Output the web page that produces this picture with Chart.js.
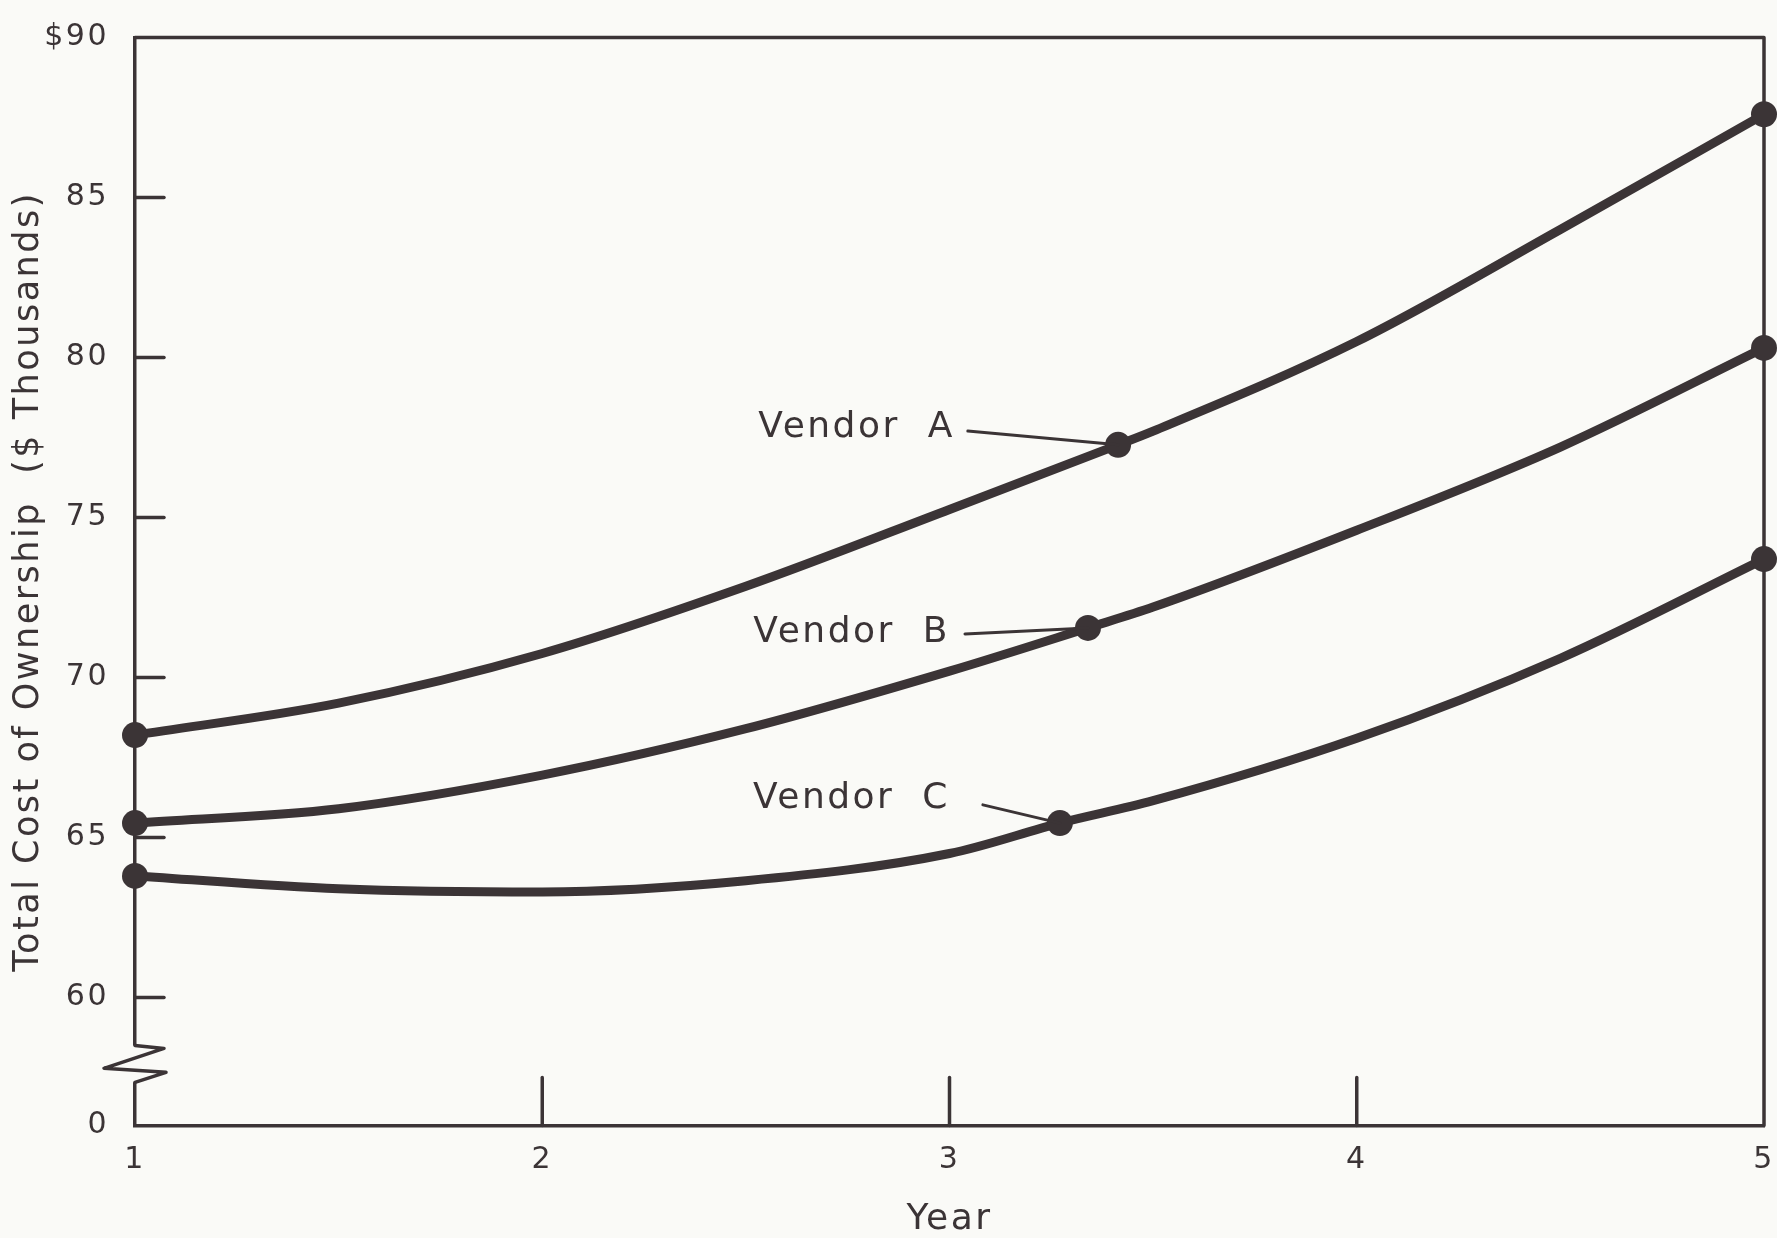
<!DOCTYPE html>
<html>
<head>
<meta charset="utf-8">
<title>Total Cost of Ownership</title>
<script src="https://cdn.jsdelivr.net/npm/chart.js@4.4.1/dist/chart.umd.min.js"></script>
<style>
  html, body { margin: 0; padding: 0; background: #fafaf7; }
  canvas { display: block; }
</style>
</head>
<body>
<canvas id="costChart" width="1777" height="1238"></canvas>
<script>
// Values every half year
const years = [1, 1.5, 2, 2.5, 3, 3.5, 4, 4.5, 5];
const vendorA = [68.2, 69.2, 70.75, 72.85, 75.25, 77.7, 80.5, 84.0, 87.6];
const vendorB = [65.45, 65.9, 66.95, 68.4, 70.2, 72.2, 74.6, 77.2, 80.3];
const vendorC = [63.8, 63.4, 63.3, 63.65, 64.5, 66.15, 68.1, 70.6, 73.7];
const seriesNames = ['Vendor  A', 'Vendor  B', 'Vendor  C'];

// Dots where the label leaders touch each curve
const calloutYears = [3.414, 3.34, 3.271];
const calloutValues = [77.27, 71.55, 65.45];
// Leader start (label end) and label position, in data units
const leaderYears = [3.045, 3.038, 3.082];
const leaderValues = [77.7, 71.36, 66.02];
const labelYears = [3.013, 3.001, 3.001];
const labelValues = [77.8, 71.4, 66.2];

// Axis ticks ("0" stands for the broken bottom of the scale)
const yTickValues = [56, 60, 65, 70, 75, 80, 85, 90];
const yTickLabels = ['0', '60', '65', '70', '75', '80', '85', '$90'];
const innerYTicks = [60, 65, 70, 75, 80, 85];
const innerXTicks = [2, 3, 4];
const breakTop = 58.5;
const breakBottom = 57.35;

const inkColor = '#3b3436';
const paperColor = '#fafaf7';

function buildPoints(values, i) {
    const pts = years.map((yr, j) => ({ x: yr, y: values[j] }));
    pts.push({ x: calloutYears[i], y: calloutValues[i] });
    pts.sort((a, b) => a.x - b.x);
    return pts;
}

function makeDataset(values, i) {
    return {
        label: seriesNames[i],
        data: buildPoints(values, i),
        borderColor: inkColor,
        backgroundColor: inkColor,
        borderWidth: 9,
        borderCapStyle: 'round',
        cubicInterpolationMode: 'monotone',
        pointRadius: ctx => {
            const px = ctx.raw ? ctx.raw.x : 0;
            return (px === 1 || px === 5 || px === calloutYears[i]) ? 13 : 0;
        },
        pointBorderWidth: 0,
        pointHoverRadius: 0,
        clip: false
    };
}

// Frame, inner tick marks, axis break, labels with leader lines
const chartDecor = {
    id: 'chartDecor',
    beforeDraw(chart) {
        chart.ctx.letterSpacing = '2.5px';
    },
    beforeDatasetsDraw(chart) {
        const { ctx, chartArea: area, scales: { x, y } } = chart;
        ctx.save();
        ctx.strokeStyle = inkColor;
        ctx.lineWidth = 3.5;
        ctx.lineCap = 'round';
        ctx.lineJoin = 'round';

        ctx.beginPath();
        ctx.moveTo(area.left, area.top);
        ctx.lineTo(area.right, area.top);
        ctx.lineTo(area.right, area.bottom);
        ctx.stroke();

        innerYTicks.forEach(v => {
            const py = y.getPixelForValue(v);
            ctx.beginPath();
            ctx.moveTo(area.left, py);
            ctx.lineTo(area.left + 29, py);
            ctx.stroke();
        });
        innerXTicks.forEach(v => {
            const px = x.getPixelForValue(v);
            ctx.beginPath();
            ctx.moveTo(px, area.bottom);
            ctx.lineTo(px, area.bottom - 48);
            ctx.stroke();
        });

        // zigzag break on the value axis
        const yTop = y.getPixelForValue(breakTop);
        const yBot = y.getPixelForValue(breakBottom);
        ctx.fillStyle = paperColor;
        ctx.fillRect(area.left - 4, yTop, 8, yBot - yTop);
        const span = yBot - yTop;
        ctx.beginPath();
        ctx.moveTo(area.left, yTop);
        ctx.lineTo(area.left + 29, yTop + span * 0.08);
        ctx.lineTo(area.left - 31, yTop + span * 0.62);
        ctx.lineTo(area.left + 31, yTop + span * 0.73);
        ctx.lineTo(area.left, yBot);
        ctx.stroke();
        ctx.restore();
    },
    afterDatasetsDraw(chart) {
        const { ctx, scales: { x, y } } = chart;
        ctx.save();
        ctx.strokeStyle = inkColor;
        ctx.fillStyle = inkColor;
        ctx.lineWidth = 3;
        ctx.lineCap = 'round';
        ctx.font = '36px "DejaVu Sans"';
        ctx.textAlign = 'right';
        ctx.textBaseline = 'middle';
        seriesNames.forEach((name, i) => {
            ctx.beginPath();
            ctx.moveTo(x.getPixelForValue(leaderYears[i]), y.getPixelForValue(leaderValues[i]));
            ctx.lineTo(x.getPixelForValue(calloutYears[i]), y.getPixelForValue(calloutValues[i]));
            ctx.stroke();
            ctx.fillText(name, x.getPixelForValue(labelYears[i]), y.getPixelForValue(labelValues[i]));
        });
        ctx.restore();
    },
    afterDraw(chart) {
        chart.ctx.letterSpacing = '0px';
    }
};

const ctx = document.getElementById('costChart').getContext('2d');
const costChart = new Chart(ctx, {
    type: 'line',
    data: {
        datasets: [
            makeDataset(vendorA, 0),
            makeDataset(vendorB, 1),
            makeDataset(vendorC, 2)
        ]
    },
    options: {
        responsive: false,
        animation: false,
        layout: { padding: { top: 37.5, right: -8, left: 0, bottom: 0 } },
        plugins: {
            legend: { display: false },
            tooltip: { enabled: false }
        },
        scales: {
            x: {
                type: 'linear',
                min: 1,
                max: 5,
                afterFit: scale => {
                    scale.height = 112.5;
                    scale.paddingLeft = 0;
                    scale.paddingRight = 0;
                },
                ticks: {
                    stepSize: 1,
                    padding: 17,
                    color: inkColor,
                    font: { family: 'DejaVu Sans', size: 30 }
                },
                grid: { display: true, drawOnChartArea: false, drawTicks: false },
                border: { display: true, color: inkColor, width: 3.5 },
                title: {
                    display: true,
                    text: 'Year',
                    color: inkColor,
                    font: { family: 'DejaVu Sans', size: 36, lineHeight: 1 },
                    padding: { top: 0, bottom: 0 }
                }
            },
            y: {
                type: 'linear',
                min: 56,
                max: 90,
                afterFit: scale => {
                    scale.width = 135;
                    scale.paddingTop = 0;
                    scale.paddingBottom = 0;
                },
                afterBuildTicks: scale => {
                    scale.ticks = yTickValues.map(v => ({ value: v }));
                },
                ticks: {
                    padding: 26,
                    color: inkColor,
                    font: { family: 'DejaVu Sans', size: 30 },
                    callback: value => {
                        const idx = yTickValues.indexOf(value);
                        return idx >= 0 ? yTickLabels[idx] : '';
                    }
                },
                grid: { display: true, drawOnChartArea: false, drawTicks: false },
                border: { display: true, color: inkColor, width: 3.5 },
                title: {
                    display: true,
                    text: 'Total Cost of Ownership  ($ Thousands)',
                    color: inkColor,
                    font: { family: 'DejaVu Sans', size: 35, lineHeight: 1 },
                    padding: { top: 11, bottom: 0 }
                }
            }
        }
    },
    plugins: [chartDecor]
});
</script>
</body>
</html>
